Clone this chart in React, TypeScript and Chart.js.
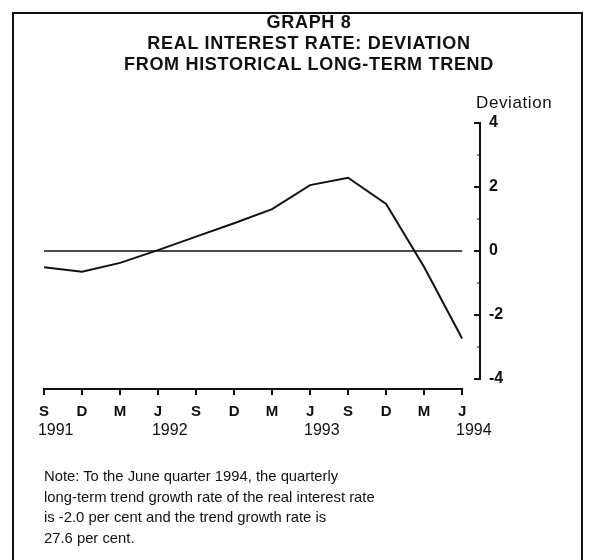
import React, { useEffect, useRef } from "react";
import { Chart, registerables } from "chart.js";

Chart.register(...registerables);

const MONTHS = ["S", "D", "M", "J", "S", "D", "M", "J", "S", "D", "M", "J"];
const YEARS = ["1991", "", "", "1992", "", "", "", "1993", "", "", "", "1994"];
const DEVIATION = [-0.51, -0.65, -0.37, 0.03, 0.45, 0.87, 1.31, 2.06, 2.29, 1.47, -0.5, -2.73];
const TREND_LEVEL = 0;
const Y_TICKS = [-4, -2, 0, 2, 4];
const Y_MINOR = [-3, -1, 1, 3];
const TITLE_LINES = ["GRAPH 8", "REAL INTEREST RATE: DEVIATION", "FROM HISTORICAL LONG-TERM TREND"];
const NOTE_LINES = [
  "Note: To the June quarter 1994, the quarterly",
  "long-term trend growth rate of the real interest rate",
  "is -2.0 per cent and the trend growth rate is",
  "27.6 per cent.",
];
const Y_LABEL = "Deviation";

const FONT = "'Liberation Sans', Arial, Helvetica, sans-serif";
const INK = "#111";

const axisPlugin = {
  id: "axisLines",
  afterDraw(chart: any) {
    const { ctx, chartArea, scales } = chart;
    const x = scales.x;
    const y = scales.y;
    ctx.save();
    ctx.strokeStyle = INK;
    ctx.lineCap = "butt";
    ctx.lineWidth = 2;
    ctx.beginPath();
    ctx.moveTo(x.getPixelForValue(0) - 1, chartArea.bottom);
    ctx.lineTo(x.getPixelForValue(MONTHS.length - 1) + 1, chartArea.bottom);
    ctx.stroke();
    const ax = chartArea.right;
    const top = y.getPixelForValue(Math.max(...Y_TICKS));
    const bot = y.getPixelForValue(Math.min(...Y_TICKS));
    ctx.beginPath();
    ctx.moveTo(ax, top - 1);
    ctx.lineTo(ax, bot + 1);
    ctx.stroke();
    ctx.lineWidth = 2;
    Y_TICKS.forEach((v) => {
      const py = y.getPixelForValue(v);
      ctx.beginPath();
      ctx.moveTo(ax - 6, py);
      ctx.lineTo(ax, py);
      ctx.stroke();
    });
    ctx.lineWidth = 1;
    Y_MINOR.forEach((v) => {
      const py = y.getPixelForValue(v);
      ctx.beginPath();
      ctx.moveTo(ax - 3, py);
      ctx.lineTo(ax, py);
      ctx.stroke();
    });
    ctx.restore();
  },
};

export default function App() {
  const canvasRef = useRef<HTMLCanvasElement | null>(null);

  useEffect(() => {
    const canvas = canvasRef.current;
    if (!canvas) return;
    const n = MONTHS.length;
    const chart = new Chart(canvas, {
      type: "line",
      data: {
        datasets: [
          {
            label: "Deviation",
            data: DEVIATION.map((v, i) => ({ x: i, y: v })),
            borderColor: INK,
            borderWidth: 2,
            pointRadius: 0,
            tension: 0,
            fill: false,
          },
          {
            label: "Trend",
            data: [
              { x: 0, y: TREND_LEVEL },
              { x: n - 1, y: TREND_LEVEL },
            ],
            borderColor: INK,
            borderWidth: 1.6,
            pointRadius: 0,
            tension: 0,
            fill: false,
          },
        ],
      },
      options: {
        animation: false,
        responsive: false,
        maintainAspectRatio: false,
        events: [],
        layout: { padding: { left: 44, right: 49, top: 123, bottom: 110 } },
        plugins: {
          legend: { display: false },
          tooltip: { enabled: false },
          title: { display: false },
        },
        scales: {
          x: {
            type: "linear",
            position: "bottom",
            weight: 0,
            min: 0,
            max: 11.47,
            afterBuildTicks: (s: any) => {
              s.ticks = MONTHS.map((_, i) => ({ value: i }));
            },
            afterFit: (s: any) => {
              s.height = 32;
            },
            grid: {
              display: true,
              drawOnChartArea: false,
              drawTicks: true,
              tickLength: 6,
              color: INK,
              lineWidth: 2,
            },
            border: { display: false },
            ticks: {
              autoSkip: false,
              maxRotation: 0,
              padding: 8,
              color: INK,
              font: { family: FONT, size: 15, weight: "bold" },
              callback: (v: any) => MONTHS[v] ?? "",
            },
          },
          x2: {
            type: "linear",
            position: "bottom",
            weight: 1,
            min: 0,
            max: 11.47,
            afterBuildTicks: (s: any) => {
              s.ticks = YEARS.map((y, i) => ({ value: i - 0.16 })).filter((_, i) => YEARS[i] !== "");
            },
            afterFit: (s: any) => {
              s.height = 29;
            },
            grid: { display: false, drawTicks: false },
            border: { display: false },
            ticks: {
              autoSkip: false,
              maxRotation: 0,
              align: "start",
              padding: 0,
              color: INK,
              font: { family: FONT, size: 16 },
              callback: (v: any) => YEARS[Math.round(v + 0.16)] ?? "",
            },
          },
          y: {
            type: "linear",
            position: "right",
            min: -4.31,
            max: 4,
            afterBuildTicks: (s: any) => {
              s.ticks = Y_TICKS.map((v) => ({ value: v }));
            },
            afterFit: (s: any) => {
              s.width = 60;
            },
            grid: { display: false, drawTicks: false },
            border: { display: false },
            ticks: {
              padding: 9,
              color: INK,
              font: { family: FONT, size: 16, weight: "bold" },
              callback: (v: any) => String(v),
            },
          },
        },
      },
      plugins: [axisPlugin],
    });
    return () => chart.destroy();
  }, []);

  return (
    <div style={{ position: "absolute", left: 0, top: 0, width: 589, height: 560, background: "#fff", overflow: "hidden", fontFamily: FONT, color: INK }}>
      <div
        style={{
          position: "absolute",
          left: 12,
          top: 12,
          width: 567,
          height: 600,
          border: "2px solid #111",
          boxSizing: "content-box",
        }}
      />
      <canvas ref={canvasRef} width={589} height={560} style={{ position: "absolute", left: 0, top: 0 }} />
      <div
        style={{
          position: "absolute",
          left: 0,
          width: 618,
          top: 12,
          textAlign: "center",
          fontWeight: "bold",
          fontSize: 18,
          lineHeight: "21px",
          letterSpacing: "0.7px",
        }}
      >
        {TITLE_LINES.map((t, i) => (
          <div key={i}>{t}</div>
        ))}
      </div>
      <div style={{ position: "absolute", left: 476, top: 93, fontSize: 17, lineHeight: "20px", letterSpacing: "0.6px" }}>{Y_LABEL}</div>
      <div style={{ position: "absolute", left: 44, top: 466, fontSize: 14.8, lineHeight: "20.7px" }}>
        {NOTE_LINES.map((t, i) => (
          <div key={i}>{t}</div>
        ))}
      </div>
    </div>
  );
}
